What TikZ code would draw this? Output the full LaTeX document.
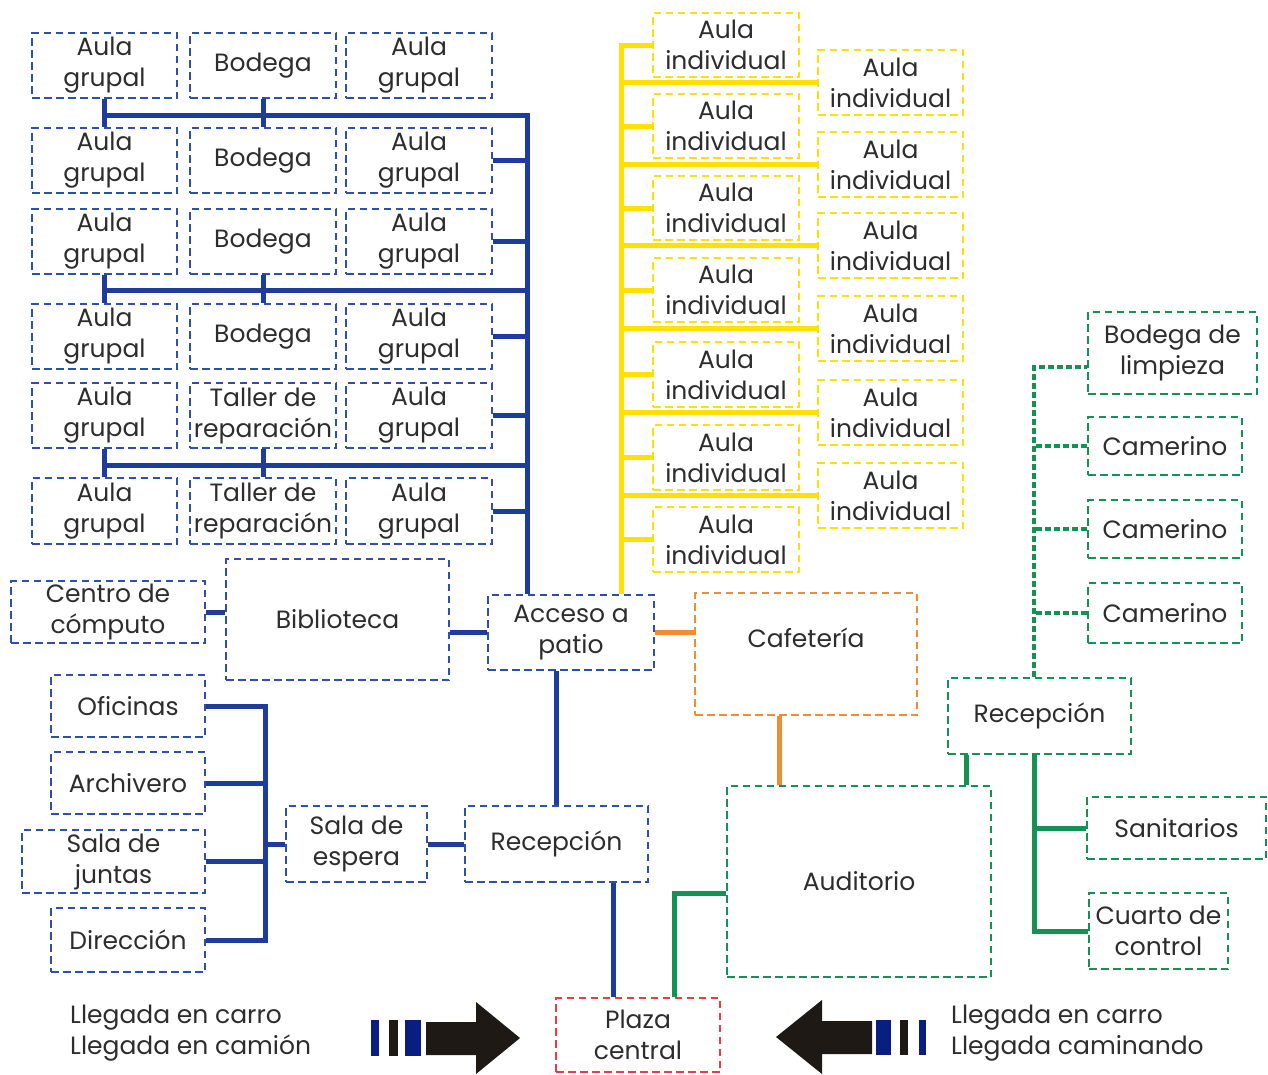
\documentclass[tikz,border=0pt]{standalone}
\usepackage{fontspec}
\setmainfont{Poppins}
\definecolor{bbox}{RGB}{45,80,170}
\definecolor{bline}{RGB}{30,60,155}
\definecolor{ybox}{RGB}{255,225,0}
\definecolor{obox}{RGB}{240,140,50}
\definecolor{gbox}{RGB}{20,145,85}
\definecolor{rbox}{RGB}{235,60,70}
\definecolor{navy}{RGB}{10,30,130}
\definecolor{ink}{RGB}{45,45,45}
\definecolor{arr}{RGB}{30,25,20}
\newcommand\fs{\fontsize{25}{31}\selectfont}
\newcommand\RB[7]{\node[#1, minimum width={#4-#2}, minimum height={#5-#3}] (#6) at ({(#2+#4)/2},{(#3+#5)/2}) {#7};}
\tikzset{
  box/.style={draw, dash pattern=on 7.5pt off 4.5pt, line width=2.6pt, inner sep=0pt, align=center, font=\fs, text=ink},
  bb/.style={box, draw=bbox},
  yb/.style={box, draw=ybox},
  ob/.style={box, draw=obox},
  gb/.style={box, draw=gbox},
  rb/.style={box, draw=rbox},
  conn/.style={line width=5pt, line join=miter},
  bl/.style={conn, draw=bline},
  yl/.style={conn, draw=ybox},
  ol/.style={conn, draw=obox},
  gl/.style={conn, draw=gbox},
  gd/.style={line width=4.2pt, draw=gbox, dash pattern=on 6pt off 3pt},
  lbl/.style={font=\fs, text=ink, align=left, inner sep=0pt}
}
\begin{document}
\begin{tikzpicture}[x=1pt,y=-1pt]
\useasboundingbox (0,0) rectangle (1268,1074);
% ---- blue grid
\RB{bb}{32}{33}{177}{98}{r1c1}{Aula\\grupal}
\RB{bb}{190}{33}{336}{98}{r1c2}{Bodega}
\RB{bb}{346}{33}{492}{98}{r1c3}{Aula\\grupal}
\RB{bb}{32}{128}{177}{193}{r2c1}{Aula\\grupal}
\RB{bb}{190}{128}{336}{193}{r2c2}{Bodega}
\RB{bb}{346}{128}{492}{193}{r2c3}{Aula\\grupal}
\RB{bb}{32}{209}{177}{274}{r3c1}{Aula\\grupal}
\RB{bb}{190}{209}{336}{274}{r3c2}{Bodega}
\RB{bb}{346}{209}{492}{274}{r3c3}{Aula\\grupal}
\RB{bb}{32}{304}{177}{369}{r4c1}{Aula\\grupal}
\RB{bb}{190}{304}{336}{369}{r4c2}{Bodega}
\RB{bb}{346}{304}{492}{369}{r4c3}{Aula\\grupal}
\RB{bb}{32}{383}{177}{448}{r5c1}{Aula\\grupal}
\RB{bb}{190}{383}{336}{448}{r5c2}{Taller de\\reparación}
\RB{bb}{346}{383}{492}{448}{r5c3}{Aula\\grupal}
\RB{bb}{32}{478}{177}{544}{r6c1}{Aula\\grupal}
\RB{bb}{190}{478}{336}{544}{r6c2}{Taller de\\reparación}
\RB{bb}{346}{478}{492}{544}{r6c3}{Aula\\grupal}
% ---- blue lower left
\RB{bb}{11}{581}{205}{643}{cc}{Centro de\\cómputo}
\RB{bb}{226}{559}{449}{680}{bib}{Biblioteca}
\RB{bb}{488}{595}{654}{670}{acc}{Acceso a\\patio}
\RB{bb}{51}{675}{205}{737}{of}{Oficinas}
\RB{bb}{51}{752}{205}{814}{ar}{Archivero}
\RB{bb}{22}{830}{205}{893}{sj}{Sala de\\juntas}
\RB{bb}{51}{908}{205}{972}{di}{Dirección}
\RB{bb}{286}{806}{427}{882}{se}{Sala de\\espera}
\RB{bb}{465}{806}{648}{882}{recB}{Recepción}
\RB{rb}{556}{998}{720}{1072}{pl}{Plaza\\central}
% ---- orange / green
\RB{ob}{695}{593}{917}{715}{caf}{}
\node[lbl] (cafT) at (806,638) {Cafetería};
\RB{gb}{727}{786}{991}{977}{aud}{Auditorio}
\RB{gb}{948}{678}{1131}{754}{recG}{Recepción}
\RB{gb}{1087}{797}{1266}{859}{san}{Sanitarios}
\RB{gb}{1089}{893}{1228}{969}{cu}{Cuarto de\\control}
\RB{gb}{1088}{312}{1257}{394}{bl}{Bodega de\\limpieza}
\RB{gb}{1088}{417}{1242}{475}{cam1}{Camerino}
\RB{gb}{1088}{500}{1242}{558}{cam2}{Camerino}
\RB{gb}{1088}{583}{1242}{643}{cam3}{Camerino}
% ---- yellow
\RB{yb}{653}{13}{799}{77}{yl1}{Aula\\individual}
\RB{yb}{653}{94}{799}{158}{yl2}{Aula\\individual}
\RB{yb}{653}{176}{799}{240}{yl3}{Aula\\individual}
\RB{yb}{653}{258}{799}{322}{yl4}{Aula\\individual}
\RB{yb}{653}{342}{799}{407}{yl5}{Aula\\individual}
\RB{yb}{653}{425}{799}{490}{yl6}{Aula\\individual}
\RB{yb}{653}{507}{799}{572}{yl7}{Aula\\individual}
\RB{yb}{818}{50}{963}{115}{yr1}{Aula\\individual}
\RB{yb}{818}{132}{963}{197}{yr2}{Aula\\individual}
\RB{yb}{818}{213}{963}{278}{yr3}{Aula\\individual}
\RB{yb}{818}{296}{963}{361}{yr4}{Aula\\individual}
\RB{yb}{818}{380}{963}{445}{yr5}{Aula\\individual}
\RB{yb}{818}{463}{963}{528}{yr6}{Aula\\individual}
% ---- blue connectors (grid)
\coordinate (vtop) at (527,115);
\coordinate (bus2) at (527,290);
\coordinate (bus3) at (527,465);
\draw[bl] (r1c1.south |- vtop) -- (vtop) -- (vtop |- acc.north);
\draw[bl] (r3c1.south |- bus2) -- (bus2);
\draw[bl] (r5c1.south |- bus3) -- (bus3);
\foreach \c in {1,2}{
  \draw[bl] (r1c\c.south) -- (r2c\c.north);
  \draw[bl] (r3c\c.south) -- (r4c\c.north);
  \draw[bl] (r5c\c.south) -- (r6c\c.north);
}
\foreach \r in {2,...,6}{
  \draw[bl] (r\r c3.east) -- (r\r c3.east -| vtop);
}
% ---- blue connectors (lower)
\draw[bl] (cc.east) -- (cc.east -| bib.west);
\draw[bl] (acc.west -| bib.east) -- (acc.west);
\draw[bl] (recB.north) -- (recB.north |- acc.south);
\coordinate (obus) at (265,0);
\draw[bl] (of.east) -- (of.east -| obus) -- (di.east -| obus) -- (di.east);
\draw[bl] (ar.east) -- (ar.east -| obus);
\draw[bl] (sj.east) -- (sj.east -| obus);
\draw[bl] (se.west) -- (se.west -| obus);
\draw[bl] (se.east) -- (se.east -| recB.west);
\coordinate (rp) at (613,0);
\draw[bl] (recB.south -| rp) -- (pl.north -| rp);
% ---- orange
\draw[ol] (acc.east) -- (acc.east -| caf.west);
\coordinate (oc) at (779,0);
\draw[ol] (caf.south -| oc) -- (aud.north -| oc);
% ---- green
\coordinate (g1) at (674,893);
\draw[gl] (g1 |- pl.north) -- (g1) -- (g1 -| aud.west);
\coordinate (g2) at (966,0);
\draw[gl] (recG.south -| g2) -- (aud.north -| g2);
\coordinate (gs) at (1034,0);
\draw[gl] (recG.south -| gs) -- (gs |- cu.west) -- (cu.west);
\draw[gl] (san.west) -- (san.west -| gs);
\coordinate (blw) at ([yshift=-14pt]bl.west);
\draw[gd] (recG.north -| gs) -- (gs |- blw) -- (blw);
\draw[gd] (cam1.west) -- (cam1.west -| gs);
\draw[gd] (cam2.west) -- (cam2.west -| gs);
\draw[gd] (cam3.west) -- (cam3.west -| gs);
% ---- yellow
\coordinate (yt) at (621,0);
\draw[yl] (yt |- acc.north) -- (yt |- yl1.west) -- (yl1.west);
\foreach \i in {2,...,7}{
  \draw[yl] (yl\i.west) -- (yl\i.west -| yt);
}
\foreach \i in {1,...,6}{
  \draw[yl] (yr\i.west) -- (yr\i.west -| yt);
}
% ---- arrivals
\node[lbl, anchor=west] (tl) at (70,1033) {Llegada en carro\\Llegada en camión};
\node[lbl, anchor=west] (tr) at (951,1033) {Llegada en carro\\Llegada caminando};
\fill[navy] (371,1020) rectangle (379,1056);
\fill[arr] (389,1020) rectangle (398,1056);
\fill[navy] (405,1020) rectangle (421,1056);
\fill[arr] (426,1022) -- (476,1022) -- (476,1002) -- (520,1038) -- (476,1074) -- (476,1055) -- (426,1055) -- cycle;
\fill[navy] (876,1020) rectangle (891,1055);
\fill[arr] (900,1020) rectangle (908,1055);
\fill[navy] (919,1020) rectangle (926,1055);
\fill[arr] (872,1021) -- (822,1021) -- (822,1000) -- (776,1037) -- (822,1074) -- (822,1054) -- (872,1054) -- cycle;
\end{tikzpicture}
\end{document}
